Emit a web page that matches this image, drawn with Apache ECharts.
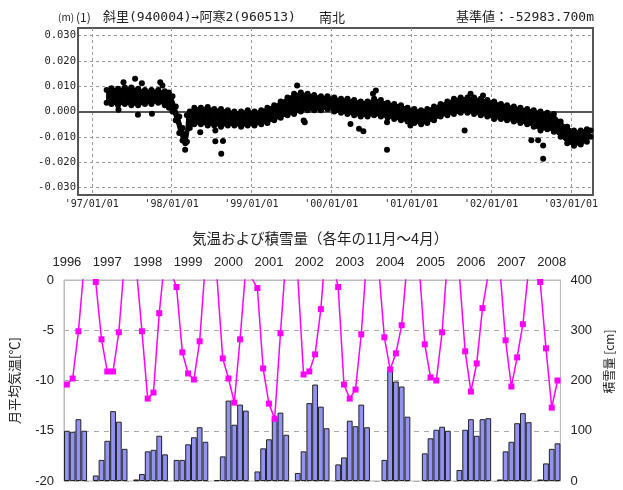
<!DOCTYPE html>
<html>
<head>
<meta charset="utf-8">
<script src="https://cdn.jsdelivr.net/npm/echarts@6/dist/echarts.min.js"></script>
<style>
  html, body { margin: 0; padding: 0; background: #fff; }
  #chart { width: 623px; height: 490px; }
</style>
</head>
<body>
<div id="chart"></div>
<script>
// --- GPS baseline (N-S component), values in mm, read off the point cloud ---
// upper / lower edge of the dense daily cloud
const gpsDates = [
  '1997-03-10','1997-04-01','1997-05-01','1997-06-01','1997-07-01','1997-08-01','1997-09-01','1997-10-01',
  '1997-11-01','1997-12-01','1997-12-20','1998-01-05','1998-01-20','1998-02-05','1998-02-20','1998-03-05',
  '1998-03-12','1998-03-25','1998-04-15','1998-05-15','1998-06-15','1998-07-15','1998-08-15','1998-09-15',
  '1998-10-15','1998-11-15','1998-12-15','1999-01-15','1999-02-15','1999-03-15','1999-04-15','1999-05-15',
  '1999-06-15','1999-07-15','1999-08-15','1999-09-15','1999-10-15','1999-11-15','1999-12-15','2000-01-15',
  '2000-02-15','2000-03-15','2000-04-15','2000-05-15','2000-06-15','2000-07-15','2000-08-15','2000-09-15',
  '2000-10-15','2000-11-15','2000-12-15','2001-01-15','2001-02-15','2001-03-15','2001-04-15','2001-05-15',
  '2001-06-15','2001-07-15','2001-08-15','2001-09-15','2001-10-15','2001-11-15','2001-12-15','2002-01-15',
  '2002-02-15','2002-03-15','2002-04-15','2002-05-15','2002-06-15','2002-07-15','2002-08-15','2002-09-15',
  '2002-10-15','2002-11-15','2002-12-15','2003-01-15','2003-02-15','2003-03-15','2003-04-01'
];
const gpsUpper = [
  8.5, 9.2, 9.0, 9.5, 9.5, 9.0, 8.5, 8.5,
  8.5, 8.0, 7.5, 6.0, 2.0, -2.0, -6.5, -9.0,
  -1.5, 0.0, 1.5, 1.5, 1.8, 1.0, 1.0, 0.5,
  0.0, 0.0, 0.5, 0.0, 0.5, 1.5, 2.5, 4.0,
  5.5, 7.0, 7.5, 7.0, 6.5, 6.0, 6.0, 5.5,
  5.0, 5.0, 4.5, 4.0, 4.0, 5.0, 4.5, 3.5,
  3.0, 2.5, 1.5, 1.0, 0.5, 1.0, 2.0, 3.0,
  4.0, 5.0, 5.5, 5.5, 5.5, 5.0, 4.5, 4.0,
  3.0, 2.5, 2.0, 1.5, 1.0, 0.5, 0.0, -0.5,
  -1.0, -4.0, -6.0, -7.5, -7.5, -7.0, -7.5
];
const gpsLower = [
  3.5, 3.0, 2.5, 3.0, 2.5, 2.5, 3.0, 3.0,
  3.5, 2.5, 1.5, 0.0, -3.5, -8.5, -11.5, -12.5,
  -12.0, -6.5, -5.0, -5.0, -5.5, -5.5, -6.0, -5.5,
  -5.5, -6.0, -5.5, -5.5, -5.0, -4.5, -3.5, -2.5,
  -1.5, -1.0, 0.0, 0.5, 0.5, 0.5, 1.0, 0.0,
  -0.5, -1.0, -1.5, -2.0, -2.0, -1.5, -2.0, -2.5,
  -3.0, -3.5, -4.0, -4.5, -5.0, -4.5, -3.5, -2.0,
  -1.5, -1.0, -0.5, -0.5, -1.0, -1.5, -2.0, -3.0,
  -3.0, -3.5, -4.0, -4.5, -5.0, -6.0, -7.5, -7.0,
  -8.0, -10.0, -12.5, -13.5, -13.0, -12.0, -10.0
];
// isolated points outside the cloud
const outlierDates = [
  '1997-05-03','1997-05-26','1997-07-18','1997-07-31','1997-08-18','1997-10-03','1997-11-10','1997-11-20',
  '1998-03-04','1998-05-12','1998-07-20','1998-07-20','1998-08-16','1998-08-24','1999-07-29','1999-08-28',
  '1999-09-02','2000-03-29','2000-05-07','2000-05-27','2000-07-10','2000-07-23','2000-09-12','2000-09-12',
  '2000-12-28','2001-09-02','2001-09-29','2001-11-25','2002-07-04','2002-08-04','2002-08-27','2002-08-27'
];
const outlierValues = [
  0.7, 11.6, 12.9, -1.3, 11.2, -0.9, 11.6, 10.3,
  -15.1, -8.2, -7.5, -11.8, -16.7, -11.7, 10.3, -3.6,
  -4.2, -4.9, -6.8, -7.8, 7.0, 8.3, -15.1, -4.2,
  -5.5, -7.5, 7.0, 6.3, -11.4, -11.4, -18.7, -13.4
];
const gpsYTicks = [-0.03, -0.02, -0.01, 0, 0.01, 0.02, 0.03];
const gpsXTicks = ['1997-01-01','1998-01-01','1999-01-01','2000-01-01','2001-01-01','2002-01-01','2003-01-01'];

// --- winter months: monthly mean temperature (°C) and snow depth (cm) ---
const seasonYears = ['1996','1997','1998','1999','2000','2001','2002','2003','2004','2005','2006','2007','2008'];
const seasonMonths = [
  [1,2,3,4],
  [11,12,1,2,3,4],[11,12,1,2,3,4],[11,12,1,2,3,4],[11,12,1,2,3,4],[11,12,1,2,3,4],[11,12,1,2,3,4],
  [11,12,1,2,3,4],[11,12,1,2,3,4],[11,12,1,2,3,4],[11,12,1,2,3,4],[11,12,1,2,3,4],
  [11,12,1,2]
];
const monthlyTemp = [
  [-10.4, -9.8, -5.1, 1.5],
  [-0.2, -5.9, -9.1, -9.1, -5.2, 2.0],
  [1.4, -5.1, -11.8, -11.2, -3.3, 2.3],
  [-0.7, -7.2, -9.3, -9.9, -6.1, 1.7],
  [0.3, -7.8, -9.8, -12.2, -5.9, 1.2],
  [-0.8, -8.8, -12.3, -13.8, -5.3, 2.6],
  [0.4, -9.4, -9.1, -7.4, -2.9, 4.5],
  [-0.7, -10.4, -11.8, -10.9, -5.4, 2.7],
  [1.3, -5.7, -8.9, -7.3, -4.5, 2.0],
  [1.6, -6.4, -9.7, -10.0, -5.2, 2.5],
  [0.5, -7.1, -11.1, -8.3, -2.8, 0.6],
  [1.2, -6.0, -10.6, -7.7, -4.4, 1.1],
  [-0.2, -6.8, -12.7, -10.0]
];
const snowDepth = [
  [100, 98, 123, 100],
  [11, 42, 80, 139, 118, 64],
  [3, 14, 59, 62, 90, 53],
  [42, 42, 73, 87, 107, 78],
  [2, 49, 160, 112, 152, 140],
  [19, 65, 83, 126, 136, 92],
  [16, 59, 155, 192, 148, 105],
  [33, 47, 120, 109, 152, 107],
  [null, 42, 219, 198, 188, 128],
  [null, 55, 85, 102, 108, 100],
  [22, 102, 123, 90, 123, 125],
  [3, 59, 78, 115, 135, 117],
  [3, 35, 64, 75]
];

// flatten seasons into category slots, one empty slot between winters
const slotNames = [], snowSlots = [], tempSlots = [];
seasonMonths.forEach((months, s) => {
  const yr = +seasonYears[s];
  months.forEach((m, k) => {
    slotNames.push((m >= 11 ? yr - 1 : yr) + '/' + m);
    snowSlots.push(snowDepth[s][k]);
    tempSlots.push(monthlyTemp[s][k]);
  });
  if (s < seasonMonths.length - 1) {
    slotNames.push('gap' + s);
    snowSlots.push(null);
    tempSlots.push(null);
  }
});
const isJan = (i, name) => /\/1$/.test(name);
const ts = d => Date.parse(d);   // date string -> ms (UTC)

const JP = '"Noto Sans CJK JP", sans-serif';
const MONO_JP = '"DejaVu Sans Mono", "Noto Sans CJK JP", monospace';
const MONO = '"DejaVu Sans Mono", monospace';
const SANS = '"Liberation Sans", Arial, sans-serif';
const headStyle = (size, family) => ({ fontSize: size, fontWeight: 'normal', fontFamily: family, color: '#222' });

const chart = echarts.init(document.getElementById('chart'));
chart.setOption({
  animation: false,
  backgroundColor: '#fff',
  title: [
    { text: '(m)', left: 58, top: 12, padding: 0, textStyle: headStyle(10, JP) },
    { text: '(1)', left: 76, top: 11, padding: 0, textStyle: headStyle(12, JP) },
    { text: '斜里(940004)→阿寒2(960513)', left: 103, top: 11, padding: 0, textStyle: headStyle(13, MONO_JP) },
    { text: '南北', left: 319, top: 11, padding: 0, textStyle: headStyle(13, JP) },
    { text: '基準値：-52983.700m', right: 29, top: 11, padding: 0, textStyle: headStyle(13, MONO_JP) },
    { text: '気温および積雪量（各年の11月～4月）', left: 192, top: 231, padding: 0, textStyle: headStyle(14.5, JP) }
  ],
  grid: [
    { left: 78, right: 30, top: 28, height: 167, show: true, borderColor: '#555', borderWidth: 2 },
    { left: 62, right: 48, top: 280, height: 201, show: true, borderColor: '#bbb', borderWidth: 1 }
  ],
  xAxis: [
    {
      type: 'value', gridIndex: 0, min: ts('1996-10-30'), max: ts('2003-04-12'),
      axisLine: { lineStyle: { color: '#555', width: 2 } },
      axisTick: { show: false, customValues: gpsXTicks.map(ts) },
      axisLabel: {
        customValues: gpsXTicks.map(ts), margin: 4, fontSize: 10, fontFamily: MONO, color: '#222',
        formatter: v => "'" + String(new Date(v).getUTCFullYear()).slice(2) + '/01/01'
      },
      splitLine: { show: true, lineStyle: { color: '#999', type: [3, 3], width: 1 } }
    },
    {
      type: 'category', gridIndex: 1, position: 'top', data: slotNames, boundaryGap: true,
      axisLine: { lineStyle: { color: '#bbb' } },
      axisTick: { inside: true, length: 4, interval: isJan, lineStyle: { color: '#999' } },
      axisLabel: { interval: isJan, formatter: n => n.split('/')[0], margin: 11,
                   fontSize: 13, fontFamily: SANS, color: '#222' },
      splitLine: { show: false }
    }
  ],
  yAxis: [
    {
      type: 'value', gridIndex: 0, min: -0.033, max: 0.033,
      axisLine: { show: true, lineStyle: { color: '#555', width: 2 } },
      axisTick: { show: false, customValues: gpsYTicks },
      axisLabel: { customValues: gpsYTicks, margin: 2, fontSize: 10.5, fontFamily: MONO, color: '#222',
                   formatter: v => v.toFixed(3) },
      splitLine: { show: true, lineStyle: { color: '#999', type: [3, 3], width: 1 } }
    },
    {
      // solid zero line
      type: 'value', gridIndex: 0, min: -0.033, max: 0.033, position: 'left',
      axisLine: { show: false }, axisLabel: { show: false },
      axisTick: { show: false, customValues: [0] },
      splitLine: { show: true, lineStyle: { color: '#888', width: 1.5 } }
    },
    {
      type: 'value', gridIndex: 1, min: -20, max: 0, interval: 5, position: 'left',
      name: '月平均気温[℃]', nameLocation: 'middle', nameRotate: 90, nameGap: 43,
      nameTextStyle: { fontSize: 13, fontFamily: JP, color: '#222' },
      axisLine: { show: true, lineStyle: { color: '#bbb' } },
      axisTick: { show: false },
      axisLabel: { margin: 10, fontSize: 13, fontFamily: SANS, color: '#222' },
      splitLine: { show: true, lineStyle: { color: '#aaa', type: [5, 5], width: 1 } }
    },
    {
      type: 'value', gridIndex: 1, min: 0, max: 400, interval: 100, position: 'right',
      name: '積雪量 [cm]', nameLocation: 'middle', nameRotate: 90, nameGap: 33,
      nameTextStyle: { fontSize: 12, fontFamily: JP, color: '#222', padding: [0, 0, 0, 38] },
      axisLine: { show: true, lineStyle: { color: '#bbb' } },
      axisTick: { show: false },
      axisLabel: { margin: 10, fontSize: 13, fontFamily: SANS, color: '#222' },
      splitLine: { show: false }
    }
  ],
  series: [
    {
      // filled cloud between upper and lower edges
      name: 'cloud', type: 'custom', xAxisIndex: 0, yAxisIndex: 0,
      data: gpsDates.map((d, i) => [ts(d), gpsUpper[i] / 1000, gpsLower[i] / 1000]),
      encode: { x: 0, y: [1, 2] },
      renderItem: (params, api) => {
        const i = params.dataIndex;
        if (i >= gpsDates.length - 1) return null;
        const x0 = ts(gpsDates[i]), x1 = ts(gpsDates[i + 1]);
        const pts = [
          api.coord([x0, gpsUpper[i] / 1000]), api.coord([x1, gpsUpper[i + 1] / 1000]),
          api.coord([x1, gpsLower[i + 1] / 1000]), api.coord([x0, gpsLower[i] / 1000])
        ];
        return { type: 'polygon', shape: { points: pts },
                 style: { fill: '#000', stroke: '#000', lineWidth: 1 } };
      },
      silent: true, z: 3
    },
    {
      name: 'edges', type: 'scatter', xAxisIndex: 0, yAxisIndex: 0,
      data: gpsDates.map((d, i) => [ts(d), gpsUpper[i] / 1000])
        .concat(gpsDates.map((d, i) => [ts(d), gpsLower[i] / 1000])),
      symbolSize: 6, itemStyle: { color: '#000', opacity: 1 }, z: 3
    },
    {
      name: 'outliers', type: 'scatter', xAxisIndex: 0, yAxisIndex: 0,
      data: outlierDates.map((d, i) => [ts(d), outlierValues[i] / 1000]),
      symbolSize: 6, itemStyle: { color: '#000', opacity: 1 }, z: 4
    },
    {
      name: '積雪量', type: 'bar', xAxisIndex: 1, yAxisIndex: 3,
      data: snowSlots, barWidth: '100%', barCategoryGap: '0%',
      itemStyle: { color: '#9292f2', borderColor: '#222', borderWidth: 1 }, z: 2
    },
    {
      name: '気温', type: 'line', xAxisIndex: 1, yAxisIndex: 2,
      data: tempSlots, connectNulls: true,
      symbol: 'rect', symbolSize: 6, showSymbol: true, showAllSymbol: true,
      itemStyle: { color: '#ff00ff' }, lineStyle: { color: '#ff00ff', width: 1.5 }, z: 5
    }
  ]
});
</script>
</body>
</html>
